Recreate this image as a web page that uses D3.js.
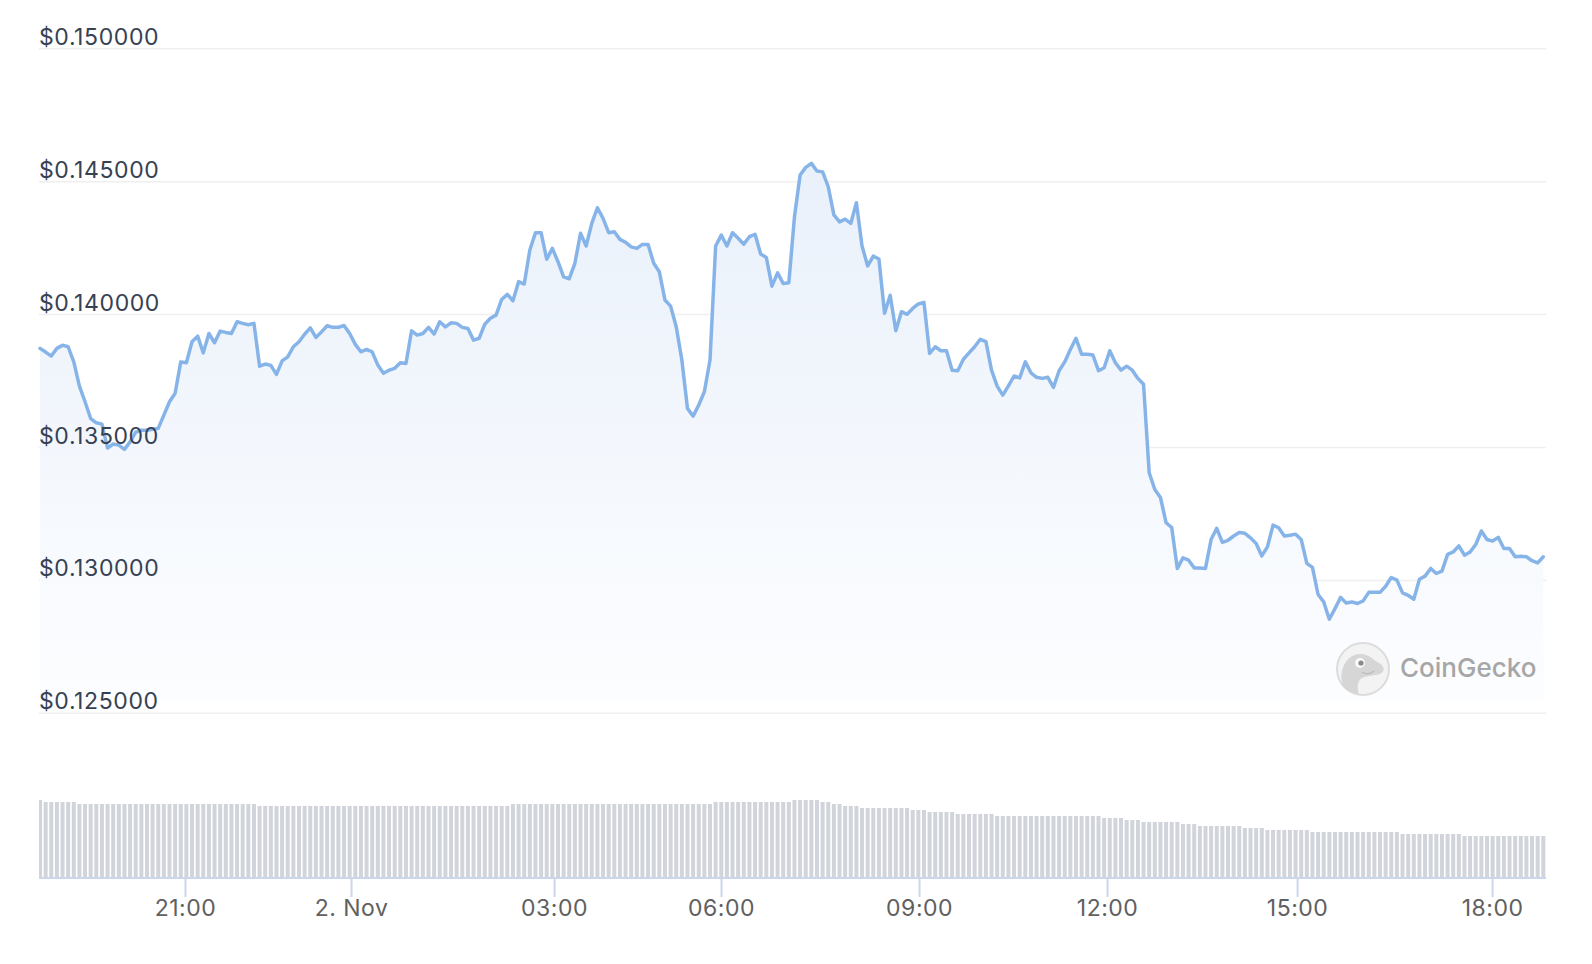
<!DOCTYPE html>
<html>
<head>
<meta charset="utf-8">
<script src="https://cdn.jsdelivr.net/npm/d3@7"></script>
<style>
  html, body { margin: 0; padding: 0; background: #fff; }
  svg { display: block; font-family: Inter, "Noto Sans", sans-serif; }
</style>
</head>
<body>
<svg id="chart" width="1592" height="964"></svg>
<script>
// price (USD), one value per 5-min sample
const prices = [
  0.13873, 0.13859, 0.13844, 0.13873, 0.13885, 0.13879, 0.13822, 0.13731, 0.13672, 0.13609,
  0.13593, 0.13588, 0.13498, 0.13513, 0.13509, 0.13493, 0.13521, 0.13558, 0.13565, 0.13565,
  0.13569, 0.13572, 0.13622, 0.13672, 0.13704, 0.13822, 0.13819, 0.13898, 0.13919, 0.13856,
  0.13929, 0.13894, 0.13938, 0.13933, 0.13929, 0.13973, 0.13967, 0.13962, 0.13967, 0.13806,
  0.13814, 0.13809, 0.13775, 0.13826, 0.13841, 0.13879, 0.13898, 0.13926, 0.13950, 0.13914,
  0.13935, 0.13958, 0.13952, 0.13952, 0.13959, 0.13929, 0.13888, 0.13860, 0.13869, 0.13860,
  0.13810, 0.13779, 0.13791, 0.13798, 0.13819, 0.13816, 0.13939, 0.13923, 0.13929, 0.13952,
  0.13927, 0.13973, 0.13954, 0.13969, 0.13967, 0.13952, 0.13948, 0.13904, 0.13911, 0.13964,
  0.13986, 0.13998, 0.14057, 0.14076, 0.14052, 0.14124, 0.14115, 0.14243, 0.14308, 0.14308,
  0.14208, 0.14249, 0.14199, 0.14142, 0.14135, 0.14193, 0.14306, 0.14258, 0.14343, 0.14402,
  0.14362, 0.14308, 0.14312, 0.14283, 0.14272, 0.14255, 0.14249, 0.14264, 0.14264, 0.14193,
  0.14161, 0.14055, 0.14032, 0.13954, 0.13829, 0.13647, 0.13618, 0.13660, 0.13710, 0.13829,
  0.14258, 0.14299, 0.14258, 0.14308, 0.14287, 0.14265, 0.14293, 0.14302, 0.14228, 0.14215,
  0.14107, 0.14157, 0.14117, 0.14120, 0.14368, 0.14525, 0.14554, 0.14569, 0.14540, 0.14537,
  0.14481, 0.14375, 0.14349, 0.14359, 0.14343, 0.14421, 0.14258, 0.14183, 0.14220, 0.14209,
  0.14005, 0.14073, 0.13939, 0.14011, 0.14001, 0.14023, 0.14040, 0.14046, 0.13854, 0.13879,
  0.13864, 0.13864, 0.13791, 0.13789, 0.13832, 0.13856, 0.13879, 0.13907, 0.13898, 0.13791,
  0.13731, 0.13697, 0.13732, 0.13769, 0.13762, 0.13822, 0.13781, 0.13764, 0.13760, 0.13764,
  0.13726, 0.13789, 0.13822, 0.13869, 0.13911, 0.13851, 0.13851, 0.13848, 0.13789, 0.13800,
  0.13864, 0.13819, 0.13791, 0.13806, 0.13791, 0.13760, 0.13738, 0.13405, 0.13342, 0.13312,
  0.13217, 0.13199, 0.13045, 0.13085, 0.13076, 0.13047, 0.13047, 0.13045, 0.13154, 0.13196,
  0.13143, 0.13151, 0.13167, 0.13180, 0.13177, 0.13160, 0.13139, 0.13092, 0.13126, 0.13208,
  0.13198, 0.13167, 0.13170, 0.13174, 0.13154, 0.13064, 0.13049, 0.12947, 0.12919, 0.12854,
  0.12894, 0.12936, 0.12915, 0.12919, 0.12913, 0.12923, 0.12955, 0.12955, 0.12955, 0.12978,
  0.13011, 0.13001, 0.12953, 0.12944, 0.12929, 0.13004, 0.13016, 0.13045, 0.13026, 0.13035,
  0.13098, 0.13107, 0.13130, 0.13095, 0.13107, 0.13135, 0.13186, 0.13154, 0.13148, 0.13162,
  0.13120, 0.13120, 0.13089, 0.13091, 0.13089, 0.13074, 0.13066, 0.13089
]

// volume per sample (relative units)
const volumes = [
  39, 38, 38, 38, 38, 38, 38, 37, 37, 37, 37, 37, 37, 37, 37, 37, 37, 37, 37, 37,
  37, 37, 37, 37, 37, 37, 37, 37, 37, 37, 37, 37, 37, 37, 37, 37, 37, 37, 37, 36,
  36, 36, 36, 36, 36, 36, 36, 36, 36, 36, 36, 36, 36, 36, 36, 36, 36, 36, 36, 36,
  36, 36, 36, 36, 36, 36, 36, 36, 36, 36, 36, 36, 36, 36, 36, 36, 36, 36, 36, 36,
  36, 36, 36, 36, 37, 37, 37, 37, 37, 37, 37, 37, 37, 37, 37, 37, 37, 37, 37, 37,
  37, 37, 37, 37, 37, 37, 37, 37, 37, 37, 37, 37, 37, 37, 37, 37, 37, 37, 37, 37,
  38, 38, 38, 38, 38, 38, 38, 38, 38, 38, 38, 38, 38, 38, 39, 39, 39, 39, 39, 38,
  38, 37, 37, 36, 36, 36, 35, 35, 35, 35, 35, 35, 35, 35, 35, 34, 34, 34, 33, 33,
  33, 33, 33, 32, 32, 32, 32, 32, 32, 32, 31, 31, 31, 31, 31, 31, 31, 31, 31, 31,
  31, 31, 31, 31, 31, 31, 31, 31, 31, 30, 30, 30, 30, 29, 29, 29, 28, 28, 28, 28,
  28, 28, 28, 27, 27, 27, 26, 26, 26, 26, 26, 26, 26, 26, 25, 25, 25, 25, 24, 24,
  24, 24, 24, 24, 24, 24, 23, 23, 23, 23, 23, 23, 23, 23, 23, 23, 23, 23, 23, 23,
  23, 23, 22, 22, 22, 22, 22, 22, 22, 22, 22, 22, 22, 21, 21, 21, 21, 21, 21, 21,
  21, 21, 21, 21, 21, 21, 21, 21
]

const priceTicks = [0.125, 0.130, 0.135, 0.140, 0.145, 0.150]
// sample position where each labelled hour falls
const timeTickPos = [25.75, 55.24, 91.30, 120.96, 156.13, 189.52, 223.27, 257.9]
const timeTickLabels = ['21:00', '2. Nov', '03:00', '06:00', '09:00', '12:00', '15:00', '18:00']

const width = 1592, height = 964
const plotLeft = 39, plotRight = 1546

const svg = d3.select('#chart')

const x = d3.scaleLinear()
    .domain([0, prices.length - 1])
    .range([40, 1543.3])

const y = d3.scaleLinear()
    .domain([0.125, 0.150])
    .range([713.3, 48.8])

const yVol = d3.scaleLinear()
    .domain([0, d3.max(volumes)])
    .range([878, 800])

const defs = svg.append('defs')
const grad = defs.append('linearGradient')
    .attr('id', 'fillGrad')
    .attr('x1', 0).attr('y1', 0).attr('x2', 0).attr('y2', 1)
grad.append('stop').attr('offset', '0%').attr('stop-color', '#e7effa')
grad.append('stop').attr('offset', '100%').attr('stop-color', '#fcfdff')

defs.append('clipPath').attr('id', 'plotClip')
    .append('rect')
    .attr('x', plotLeft).attr('y', 0)
    .attr('width', plotRight - plotLeft).attr('height', height)

// grid lines
svg.append('g')
    .selectAll('line')
    .data(priceTicks)
    .join('line')
    .attr('x1', plotLeft)
    .attr('x2', plotRight)
    .attr('y1', d => y(d))
    .attr('y2', d => y(d))
    .attr('stroke', '#efefef')
    .attr('stroke-width', 1.5)

// area + line
const area = d3.area()
    .x((d, i) => x(i))
    .y0(700)
    .y1(d => y(d))

const line = d3.line()
    .x((d, i) => x(i))
    .y(d => y(d))

svg.append('path')
    .datum(prices)
    .attr('d', area)
    .attr('fill', 'url(#fillGrad)')
    .attr('opacity', 0.9)

// watermark
const wm = svg.append('g').attr('transform', 'translate(1363, 669)')
wm.append('circle').attr('r', 26).attr('fill', '#f3f3f3').attr('stroke', '#dcdcdc').attr('stroke-width', 2)
wm.append('path')
    .attr('d', 'M-20,17 C-25,2 -17,-15 -3,-15 C7,-15 11,-8 16,-6 C22,-3 22,3 17,5 C12,7 5,6 -1,9 C-6,12 -6,19 -4,25 C-12,24 -18,21 -20,17 Z')
    .attr('fill', '#d6d6d6')
wm.append('circle').attr('cx', -3).attr('cy', -6).attr('r', 5).attr('fill', '#fafafa')
wm.append('circle').attr('cx', -2).attr('cy', -6).attr('r', 2.6).attr('fill', '#8a8a8a')
wm.append('path').attr('d', 'M-1,3 Q5,7 11,2').attr('fill', 'none').attr('stroke', '#bdbdbd').attr('stroke-width', 1.5)
svg.append('text')
    .attr('x', 1400)
    .attr('y', 677)
    .attr('fill', '#a6a6a6')
    .attr('font-size', 26)
    .attr('font-weight', 500)
    .text('CoinGecko')

svg.append('path')
    .datum(prices)
    .attr('d', line)
    .attr('fill', 'none')
    .attr('stroke', '#86b4e9')
    .attr('stroke-width', 3.5)
    .attr('stroke-linejoin', 'round')
    .attr('stroke-linecap', 'round')

// volume bars
svg.append('g')
    .attr('clip-path', 'url(#plotClip)')
    .selectAll('rect')
    .data(volumes)
    .join('rect')
    .attr('x', (d, i) => x(i) - 2)
    .attr('width', 4)
    .attr('y', d => yVol(d))
    .attr('height', d => yVol(0) - yVol(d))
    .attr('fill', '#d1d4da')

// price labels
svg.append('g')
    .selectAll('text')
    .data(priceTicks)
    .join('text')
    .attr('x', 39)
    .attr('y', d => y(d) - 4)
    .attr('fill', '#364152')
    .attr('font-size', 23)
    .attr('letter-spacing', 0.6)
    .text(d => '$' + d.toFixed(6))

// time axis
const xAxis = d3.axisBottom(x)
    .tickValues(timeTickPos)
    .tickFormat((d, i) => timeTickLabels[i])
    .tickSize(19)
    .tickPadding(3)
    .tickSizeOuter(0)

const gx = svg.append('g')
    .attr('transform', 'translate(0, 878)')
    .call(xAxis)
gx.select('.domain').remove()
gx.selectAll('.tick line').attr('stroke', '#ccd6eb').attr('stroke-width', 2)
gx.selectAll('.tick text')
    .attr('fill', '#606060')
    .attr('font-size', 23)
    .attr('letter-spacing', 0.5)
    .attr('font-family', 'Inter, "Noto Sans", sans-serif')
gx.append('line')
    .attr('x1', plotLeft).attr('x2', plotRight)
    .attr('y1', 0).attr('y2', 0)
    .attr('stroke', '#ccd6eb')
    .attr('stroke-width', 2)
</script>
</body>
</html>
